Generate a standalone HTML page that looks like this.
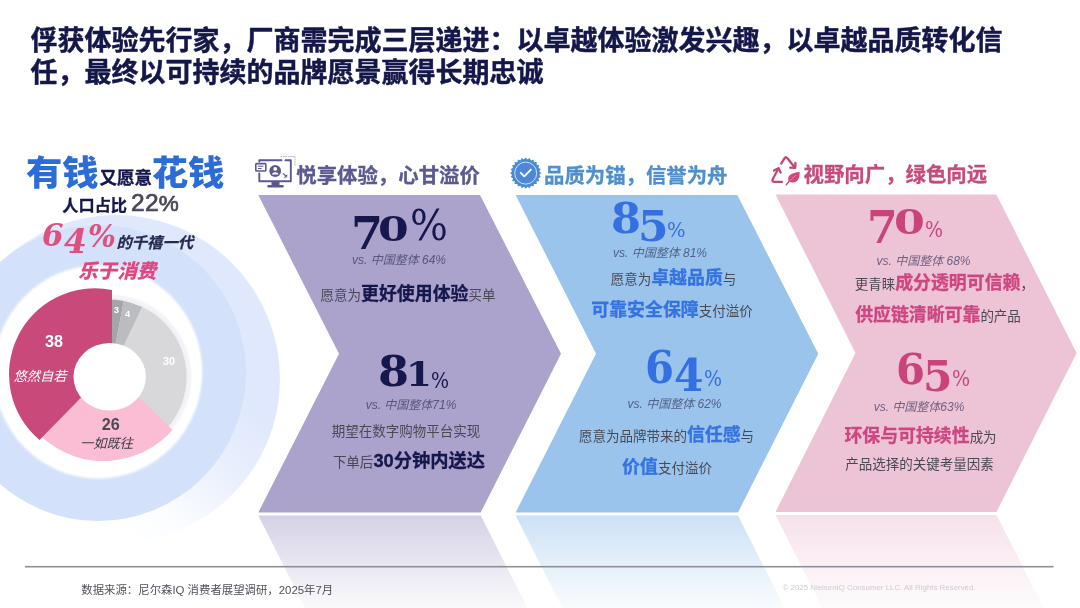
<!DOCTYPE html>
<html lang="zh-CN">
<head>
<meta charset="utf-8">
<title>俘获体验先行家</title>
<style>
html,body{margin:0;padding:0;background:#fff;}
body{width:1080px;height:608px;overflow:hidden;position:relative;font-family:"Liberation Sans","Noto Sans CJK SC",sans-serif;color:#3d3d4a;}
#stage{position:absolute;left:0;top:0;width:1080px;height:608px;overflow:hidden;background:#fff;}
svg.bg{position:absolute;left:0;top:0;}
.t{position:absolute;white-space:nowrap;line-height:1;}
.c{transform:translateX(-50%);text-align:center;}
.title{left:30.5px;top:24.8px;-webkit-text-stroke:0.45px #14174a;font-size:27px;line-height:32px;font-weight:700;color:#14174a;white-space:nowrap;letter-spacing:0;}
.hd{font-size:20.4px;font-weight:700;-webkit-text-stroke:0.3px currentColor;}
.nb{font-family:"DejaVu Serif","Liberation Serif",serif;font-weight:700;width:0;height:0;}
.nb span{position:absolute;line-height:1;transform-origin:0 0;display:block;}
.vs{font-size:12px;font-style:italic;color:rgba(40,40,82,0.64);font-family:"Liberation Sans","Noto Sans CJK SC",sans-serif;}
.ln{font-size:13.5px;color:#494955;}
.ln b{font-size:17.9px;font-weight:700;-webkit-text-stroke:0.3px currentColor;}
.blue b{color:#3473e0;}
.pink b{color:#cd4680;}
.nv b{color:#15174d;}
</style>
</head>
<body>
<div id="stage">
<svg class="bg" width="1080" height="608" viewBox="0 0 1080 608">
  <defs>
    <linearGradient id="gOuter" gradientUnits="userSpaceOnUse" x1="130" y1="540" x2="270" y2="400">
      <stop offset="0" stop-color="#ffffff"/>
      <stop offset="0.25" stop-color="#fafcff"/>
      <stop offset="0.6" stop-color="#e9effd"/>
      <stop offset="0.9" stop-color="#e0e9fc"/>
      <stop offset="1" stop-color="#dfe8fc"/>
    </linearGradient>
    <filter id="soft" x="-10%" y="-10%" width="120%" height="120%"><feGaussianBlur stdDeviation="1.2"/></filter>
    <radialGradient id="gWhite" cx="0.5" cy="0.5" r="0.5">
      <stop offset="0" stop-color="#fff"/>
      <stop offset="0.93" stop-color="#fff"/>
      <stop offset="1" stop-color="#fff" stop-opacity="0"/>
    </radialGradient>
    <radialGradient id="gHalo" cx="0.5" cy="0.5" r="0.5">
      <stop offset="0" stop-color="#e8e8ee"/>
      <stop offset="0.9" stop-color="#ebebf1"/>
      <stop offset="0.97" stop-color="#f6f6fa"/>
      <stop offset="1" stop-color="#fff" stop-opacity="0"/>
    </radialGradient>
    <linearGradient id="r1" x1="0" y1="0" x2="0" y2="1">
      <stop offset="0" stop-color="#aba3cc" stop-opacity="0.5"/>
      <stop offset="0.55" stop-color="#aba3cc" stop-opacity="0.25"/>
      <stop offset="1" stop-color="#aba3cc" stop-opacity="0.06"/>
    </linearGradient>
    <linearGradient id="r2" x1="0" y1="0" x2="0" y2="1">
      <stop offset="0" stop-color="#9ac4ec" stop-opacity="0.5"/>
      <stop offset="0.55" stop-color="#9ac4ec" stop-opacity="0.25"/>
      <stop offset="1" stop-color="#9ac4ec" stop-opacity="0.06"/>
    </linearGradient>
    <linearGradient id="r3" x1="0" y1="0" x2="0" y2="1">
      <stop offset="0" stop-color="#edc3d6" stop-opacity="0.5"/>
      <stop offset="0.55" stop-color="#edc3d6" stop-opacity="0.25"/>
      <stop offset="1" stop-color="#edc3d6" stop-opacity="0.06"/>
    </linearGradient>
  </defs>

  <!-- big circles on left -->
  <circle cx="116" cy="379" r="164" fill="url(#gOuter)"/>
  <circle cx="98" cy="373" r="148" fill="#d4e1fa"/>
  <ellipse cx="98" cy="372" rx="104.3" ry="106.5" fill="#fff" filter="url(#soft)"/>
  <circle cx="109.3" cy="376.8" r="84" fill="url(#gHalo)"/>

  <!-- donut -->
  <g id="donut">
    <path d="M109.3,376.8 L109.3,299.5 A77.3,77.3 0 0 1 123.8,300.9 Z" fill="#a3a5ab"/>
    <path d="M109.3,376.8 L123.8,300.9 A77.3,77.3 0 0 1 142.2,306.9 Z" fill="#babcbf"/>
    <path d="M109.3,376.8 L142.2,306.9 A77.3,77.3 0 0 1 165.6,429.7 Z" fill="#d8d8da"/>
    <path d="M112,364 L40.5,439 L42.5,437.5 A91.5,91.5 0 0 0 172.5,430 L112,371 Z" fill="#fabdd4"/>
    <path d="M112,290 A86,86 0 0 0 39.5,440 L112,366 Z" fill="#c9497b"/>
    <ellipse cx="109.7" cy="376.8" rx="36.2" ry="33.8" fill="#fff"/>
  </g>

  <!-- chevrons -->
  <path d="M258.3,195 L480,195 L561,353.7 L480.7,512.5 L258.3,512.5 L339,353.7 Z" fill="#aba3cc"/>
  <path d="M515.6,195 L737.3,195 L818.3,353.7 L738,512.5 L515.6,512.5 L596,353.7 Z" fill="#9ac4ec"/>
  <path d="M775.5,194.5 L996.3,194.5 L1076.6,353 L996.5,512 L775.5,512 L855.5,353 Z" fill="#edc3d6"/>

  <!-- reflections -->
  <path d="M258.3,515.5 L480.7,515.5 L527.5,608 L305,608 Z" fill="url(#r1)"/>
  <path d="M515.6,515.5 L738,515.5 L784.8,608 L562.4,608 Z" fill="url(#r2)"/>
  <path d="M775.5,515 L996.5,515 L1043.5,608 L822.5,608 Z" fill="url(#r3)"/>


  <!-- icon 1: monitor -->
  <g id="ic1" fill="none" stroke="#5b5890" stroke-width="1.9" stroke-linecap="round" stroke-linejoin="round">
    <path d="M259.3,173.5 V181.2 H290.8 V160.3 H285.5 M281.5,160.3 H259.3 V161.5"/>
    <path d="M275.5,182 V185.5 M268.5,186.2 H282.5" stroke-width="2.6"/>
    <rect x="271.5" y="182" width="8" height="3.6" fill="#5b5890" stroke="none"/>
    <rect x="255.8" y="163.6" width="10" height="7.4" rx="0.8" fill="#fff" stroke-width="1.6"/>
    <path d="M258.3,166.2 H263 M258.3,168.5 H261.2" stroke-width="1"/>
    <circle cx="275.2" cy="171" r="5.9" fill="#5b5890" stroke="none"/>
    <circle cx="275.2" cy="168.9" r="1.9" fill="#fff" stroke="none"/>
    <path d="M271.8,174.6 A3.5,3 0 0 1 278.6,174.6 Z" fill="#fff" stroke="none"/>
    <path d="M283.3,173.6 L286.8,177 M284.8,177.3 L287,175.2" stroke-width="1.1"/>
    <path d="M281,156.5 H295 V166.5" stroke-width="0.7" stroke-dasharray="0.8 1.6" stroke="#8d8bb5"/>
  </g>
  <!-- icon 2: badge -->
  <g id="ic2">
    <polygon points="525.7,157.5 527.5,159.5 529.7,158.0 530.9,160.4 533.5,159.6 534.0,162.2 536.7,162.1 536.6,164.8 539.2,165.3 538.4,167.9 540.8,169.1 539.3,171.3 541.3,173.1 539.3,174.9 540.8,177.1 538.4,178.3 539.2,180.9 536.6,181.4 536.7,184.1 534.0,184.0 533.5,186.6 530.9,185.8 529.7,188.2 527.5,186.7 525.7,188.7 523.9,186.7 521.7,188.2 520.5,185.8 517.9,186.6 517.4,184.0 514.7,184.1 514.8,181.4 512.2,180.9 513.0,178.3 510.6,177.1 512.1,174.9 510.1,173.1 512.1,171.3 510.6,169.1 513.0,167.9 512.2,165.3 514.8,164.8 514.7,162.1 517.4,162.2 517.9,159.6 520.5,160.4 521.7,158.0 523.9,159.5" fill="#4a8fd0"/>
    <circle cx="525.7" cy="173.1" r="13.4" fill="#4b8bd4"/>
    <circle cx="525.7" cy="173.1" r="11" fill="#4f86d8" stroke="#d6ecff" stroke-width="0.9"/>
    <path d="M520.7,172.8 L524.3,176.3 L530.9,169.6" fill="none" stroke="#fff" stroke-width="1.8" stroke-linecap="round" stroke-linejoin="round"/>
  </g>
  <!-- icon 3: recycle + leaf -->
  <g id="ic3" fill="none" stroke="#c2477a" stroke-width="2.3" stroke-linecap="round" stroke-linejoin="round">
    <path d="M781.2,163.6 L784.4,158.3 Q785.8,156.2 787.4,158.3 L794.6,167.2"/>
    <path d="M790.2,167.6 L795.2,167.9 L795.4,162.9"/>
    <path d="M782,181.8 H774.2 Q771.6,181.6 772.8,179 L778.2,169"/>
    <path d="M774,170.6 L778.5,168.2 L780.6,172.6"/>
    <path d="M788.6,181.6 C786.6,175.5 791.5,172.6 799.6,172 C800,179.5 796.5,184.6 788.6,181.6 Z" fill="#d4457e" stroke="none"/>
    <path d="M786.2,184.8 L789.6,181" stroke-width="1.3"/>
    <path d="M789.6,181 L795.4,175.6" stroke="#f08ab0" stroke-width="0.9"/>
  </g>

  <!-- footer rule -->
  <rect x="25" y="565.9" width="1028.5" height="1.6" fill="#8f8f97"/>
</svg>

<div class="t title">俘获体验先行家，厂商需完成三层递进：以卓越体验激发兴趣，以卓越品质转化信<br>任，最终以可持续的品牌愿景赢得长期忠诚</div>

<!-- left block -->
<div class="t" style="left:26px;top:154.8px;font-size:36.3px;font-weight:900;color:#2c6cd6;transform:scaleY(0.95);transform-origin:0 100%;">有钱</div>
<div class="t" style="left:99.5px;top:170px;font-size:17.5px;font-weight:700;color:#15174d;-webkit-text-stroke:0.35px #15174d;">又愿意</div>
<div class="t" style="left:151.8px;top:154.8px;font-size:36.3px;font-weight:900;color:#2c6cd6;transform:scaleY(0.95);transform-origin:0 100%;">花钱</div>
<div class="t" style="left:62.3px;top:197.3px;font-size:16.2px;font-weight:700;color:#15174d;-webkit-text-stroke:0.3px #15174d;">人口占比</div>
<div class="t" style="left:131px;top:190.5px;font-size:24.5px;font-family:'Liberation Sans',sans-serif;color:#47475a;-webkit-text-stroke:0.7px #47475a;"><span style="letter-spacing:0.3px">22</span><span style="font-size:22.5px;letter-spacing:-0.5px">%</span></div>
<div class="t nb" style="left:42.3px;top:219.9px;color:#e0507f;font-style:italic;"><span style="left:0.0px;top:0.5px;font-size:31.9px;transform:scaleX(0.972);">6</span><span style="left:21.7px;top:5.8px;font-size:32.6px;transform:scaleX(1.013);">4</span><span style="left:45.5px;top:0.0px;font-size:32.1px;transform:scaleX(0.915);">%</span></div>
<div class="t" style="left:116.5px;top:234.5px;font-size:15.3px;font-weight:700;font-style:italic;color:#262a4e;-webkit-text-stroke:0.25px #262a4e;">的千禧一代</div>
<div class="t" style="left:78px;top:262px;font-size:19.6px;font-weight:900;font-style:italic;color:#e2467e;">乐于消费</div>

<!-- donut labels -->
<div class="t c" style="left:54px;top:332.5px;font-size:16.2px;font-weight:700;color:#fff;">38</div>
<div class="t c" style="left:40px;top:370px;font-size:13.3px;font-style:italic;color:#fff;">悠然自若</div>
<div class="t c" style="left:110.8px;top:415.5px;font-size:16.2px;font-weight:700;color:#4a4a52;">26</div>
<div class="t c" style="left:106.5px;top:436.7px;font-size:13.3px;font-style:italic;color:#3c3c44;">一如既往</div>
<div class="t c" style="left:116.3px;top:304.8px;font-size:9.4px;font-weight:700;color:#fff;">3</div>
<div class="t c" style="left:127.7px;top:309.2px;font-size:9.4px;font-weight:700;color:#fff;">4</div>
<div class="t c" style="left:169px;top:355.5px;font-size:11px;font-weight:700;color:#fff;">30</div>

<!-- headers -->
<div class="t hd" style="left:296.3px;top:166px;color:#5b5990;">悦享体验，心甘溢价</div>
<div class="t hd" style="left:544px;top:166px;color:#4f8fcc;">品质为锚，信誉为舟</div>
<div class="t hd" style="left:803.6px;top:165.3px;color:#c64b7d;">视野向广，绿色向远</div>

<!-- chevron 1 -->
<div class="t nb" style="left:351.0px;top:204.4px;color:#15174d;"><span style="left:0.0px;top:7.1px;font-size:44.3px;transform:scaleX(1.039);">7</span><span style="left:26.9px;top:8.3px;font-size:33.3px;transform:scaleX(1.325);">0</span><span style="left:58.8px;top:0.0px;font-size:43.5px;font-weight:400;transform:scaleX(0.917);">%</span></div>
<div class="t c vs" style="left:399px;top:254px;">vs. 中国整体 64%</div>
<div class="t c ln nv" style="left:408px;top:286px;">愿意为<b>更好使用体验</b>买单</div>
<div class="t nb" style="left:378.2px;top:349.0px;color:#15174d;"><span style="left:0.0px;top:0.0px;font-size:43.3px;transform:scaleX(1.029);">8</span><span style="left:28.1px;top:8.6px;font-size:33.2px;transform:scaleX(1.127);">1</span><span style="left:52.8px;top:21.0px;font-size:21.6px;font-weight:400;transform:scaleX(0.881);">%</span></div>
<div class="t c vs" style="left:411px;top:399px;">vs. 中国整体71%</div>
<div class="t c ln nv" style="left:406px;top:425px;">期望在数字购物平台实现</div>
<div class="t c ln nv" style="left:409px;top:452px;">下单后<b style="font-size:18.3px">30分钟内送达</b></div>

<!-- chevron 2 -->
<div class="t nb" style="left:610.7px;top:197.4px;color:#3470e2;"><span style="left:0.0px;top:0.0px;font-size:42.8px;transform:scaleX(1.006);">8</span><span style="left:27.8px;top:7.9px;font-size:42.3px;transform:scaleX(1.038);">5</span><span style="left:56.8px;top:21.3px;font-size:21.2px;font-weight:400;transform:scaleX(0.924);">%</span></div>
<div class="t c vs" style="left:660px;top:247px;">vs. 中国整体 81%</div>
<div class="t c ln blue" style="left:673.5px;top:269.5px;">愿意为<b>卓越品质</b>与</div>
<div class="t c ln blue" style="left:672px;top:302px;"><b>可靠安全保障</b>支付溢价</div>
<div class="t nb" style="left:645.4px;top:346.0px;color:#3470e2;"><span style="left:0.0px;top:0.0px;font-size:43.9px;transform:scaleX(0.950);">6</span><span style="left:28.7px;top:8.0px;font-size:43.9px;transform:scaleX(0.967);">4</span><span style="left:58.5px;top:21.5px;font-size:21.6px;font-weight:400;transform:scaleX(0.881);">%</span></div>
<div class="t c vs" style="left:674.5px;top:398.2px;">vs. 中国整体 62%</div>
<div class="t c ln blue" style="left:666.5px;top:426.5px;">愿意为品牌带来的<b>信任感</b>与</div>
<div class="t c ln blue" style="left:667px;top:458.5px;"><b>价值</b>支付溢价</div>

<!-- chevron 3 -->
<div class="t nb" style="left:867.2px;top:205.5px;color:#c8447b;"><span style="left:0.0px;top:0.0px;font-size:44.6px;transform:scaleX(0.988);">7</span><span style="left:26.8px;top:1.3px;font-size:32.8px;transform:scaleX(1.352);">0</span><span style="left:58.2px;top:13.2px;font-size:21.7px;font-weight:400;transform:scaleX(0.876);">%</span></div>
<div class="t c vs" style="left:923.5px;top:254.5px;">vs. 中国整体 68%</div>
<div class="t c ln pink" style="left:944.3px;top:274.5px;">更青睐<b>成分透明可信赖</b>，</div>
<div class="t c ln pink" style="left:938px;top:307px;"><b>供应链清晰可靠</b>的产品</div>
<div class="t nb" style="left:895.8px;top:347.5px;color:#c8447b;"><span style="left:0.0px;top:0.0px;font-size:42.2px;transform:scaleX(0.989);">6</span><span style="left:27.5px;top:7.4px;font-size:42.8px;transform:scaleX(0.990);">5</span><span style="left:56.4px;top:20.8px;font-size:21.7px;font-weight:400;transform:scaleX(0.881);">%</span></div>
<div class="t c vs" style="left:919px;top:400.5px;">vs. 中国整体63%</div>
<div class="t c ln pink" style="left:920.5px;top:428px;"><b>环保与可持续性</b>成为</div>
<div class="t c ln pink" style="left:919.5px;top:458px;">产品选择的关键考量因素</div>

<!-- footer -->
<div class="t" style="left:81.3px;top:585.3px;font-size:11.4px;color:#50505a;">数据来源：尼尔森IQ 消费者展望调研，2025年7月</div>
<div class="t" style="left:782.5px;top:583.6px;font-size:7.9px;color:#cbcbd2;">© 2025 NielsenIQ Consumer LLC. All Rights Reserved.</div>

</div>
</body>
</html>
